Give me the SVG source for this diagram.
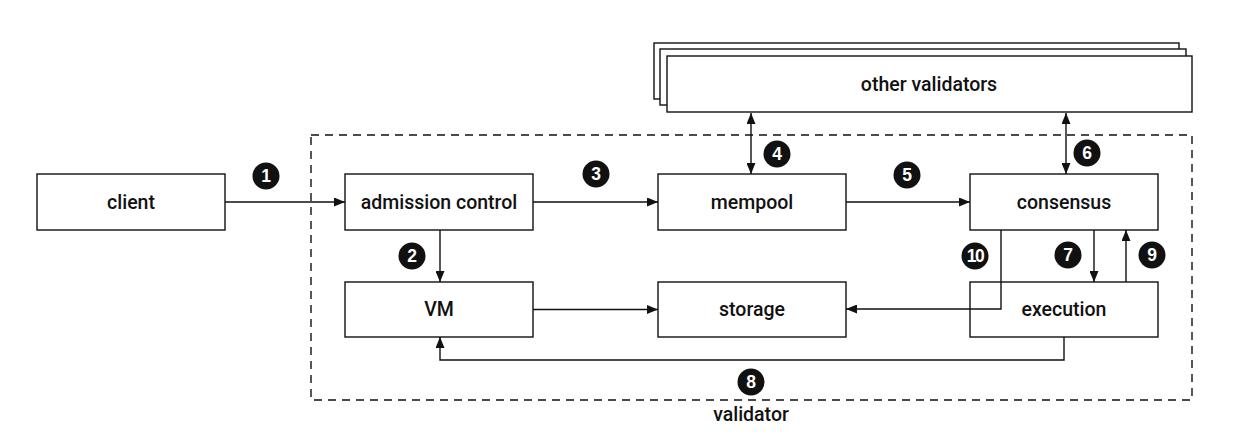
<svg xmlns="http://www.w3.org/2000/svg" width="1240" height="436" viewBox="0 0 1240 436">
<style>
.box{fill:#fff;stroke:#111;stroke-width:1.4}
.lbl{font-family:Roboto,"Liberation Sans",sans-serif;font-size:19.5px;font-weight:500;fill:#111;text-anchor:middle;dominant-baseline:central}
.ln{fill:none;stroke:#111;stroke-width:1.4}
.badge circle{fill:#111}
.badge text{font-family:"Liberation Sans",Arial,sans-serif;font-size:17.5px;font-weight:bold;fill:#fff;text-anchor:middle;dominant-baseline:central}
.dash{fill:none;stroke:#111;stroke-width:1.4;stroke-dasharray:8 6}
</style>
<defs>
<marker id="ah" viewBox="0 0 11 9" refX="11" refY="4.5" markerWidth="11" markerHeight="9" markerUnits="userSpaceOnUse" orient="auto-start-reverse">
<path d="M0,0 L11,4.5 L0,9 z" fill="#111"/>
</marker>
</defs>
<rect width="1240" height="436" fill="#fff"/>
<g id="validator">
<rect class="dash" x="311" y="135" width="881" height="265"/>
<text class="lbl" x="751" y="414">validator</text>
</g>
<g id="other-validators">
<rect class="box" x="654" y="43" width="525" height="56"/>
<rect class="box" x="660" y="49" width="526" height="56"/>
<rect class="box" x="667" y="56" width="525" height="56"/>
<text class="lbl" x="929" y="84">other validators</text>
</g>
<g id="client"><rect class="box" x="37" y="174" width="188" height="56"/><text class="lbl" x="131" y="202">client</text></g>
<g id="admission-control"><rect class="box" x="345" y="174" width="188" height="56"/><text class="lbl" x="439" y="202">admission control</text></g>
<g id="mempool"><rect class="box" x="658" y="174" width="188" height="56"/><text class="lbl" x="752" y="202">mempool</text></g>
<g id="consensus"><rect class="box" x="970" y="174" width="188" height="56"/><text class="lbl" x="1064" y="202">consensus</text></g>
<g id="vm"><rect class="box" x="345" y="282" width="188" height="55"/><text class="lbl" x="439" y="309.5">VM</text></g>
<g id="storage"><rect class="box" x="658" y="282" width="188" height="55"/><text class="lbl" x="752" y="309.5">storage</text></g>
<g id="execution"><rect class="box" x="970" y="282" width="188" height="55"/><text class="lbl" x="1064" y="309.5">execution</text></g>
<g id="connectors">
<path class="ln" d="M225,202 H345" marker-end="url(#ah)"/>
<path class="ln" d="M440,230 V282" marker-end="url(#ah)"/>
<path class="ln" d="M533,202 H658" marker-end="url(#ah)"/>
<path class="ln" d="M751,113 V174" marker-start="url(#ah)" marker-end="url(#ah)"/>
<path class="ln" d="M846,202 H970" marker-end="url(#ah)"/>
<path class="ln" d="M1066,113 V174" marker-start="url(#ah)" marker-end="url(#ah)"/>
<path class="ln" d="M1094,230 V282" marker-end="url(#ah)"/>
<path class="ln" d="M1126,282 V230" marker-end="url(#ah)"/>
<path class="ln" d="M1064,337 V360 H440 V337" marker-end="url(#ah)"/>
<path class="ln" d="M1001,230 V309 H846" marker-end="url(#ah)"/>
<path class="ln" d="M533,309.5 H658" marker-end="url(#ah)"/>
</g>
<g id="badges">
<g class="badge"><circle cx="266" cy="176" r="13.5"/><text x="266" y="176">1</text></g>
<g class="badge"><circle cx="412" cy="256" r="13.5"/><text x="412" y="256">2</text></g>
<g class="badge"><circle cx="596" cy="174" r="13.5"/><text x="596" y="174">3</text></g>
<g class="badge"><circle cx="777" cy="154" r="13.5"/><text x="777" y="154">4</text></g>
<g class="badge"><circle cx="907" cy="175" r="13.5"/><text x="907" y="175">5</text></g>
<g class="badge"><circle cx="1087" cy="153" r="13.5"/><text x="1087" y="153">6</text></g>
<g class="badge"><circle cx="1068" cy="255" r="13.5"/><text x="1068" y="255">7</text></g>
<g class="badge"><circle cx="751" cy="382" r="13.5"/><text x="751" y="382">8</text></g>
<g class="badge"><circle cx="1152" cy="255" r="13.5"/><text x="1152" y="255">9</text></g>
<g class="badge"><circle cx="975" cy="256" r="13.5"/><text x="975" y="256" style="letter-spacing:-1.5px">10</text></g>
</g>
</svg>
